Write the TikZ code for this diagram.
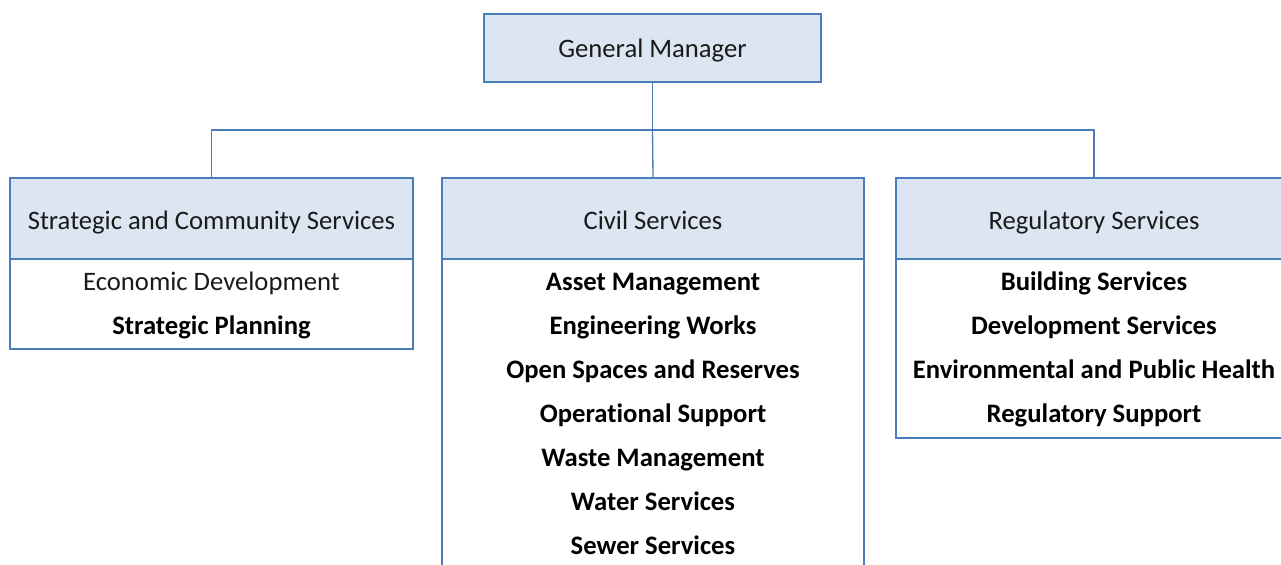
\documentclass[tikz,border=0pt]{standalone}
\usepackage{fontspec}
\setmainfont{Carlito}[Ligatures=CommonOff]
\definecolor{boxfill}{HTML}{DCE6F2}
\definecolor{boxline}{HTML}{4A7EBB}
\definecolor{txt}{HTML}{1A1A1A}
\begin{document}
\begin{tikzpicture}[x=0.75pt,y=-0.75pt,
  hdr/.style={draw=boxline,line width=1pt,fill=boxfill,minimum height=81*0.75pt,inner sep=0pt},
  bodybox/.style={draw=boxline,line width=1pt,fill=white,inner sep=0pt},
  lbl/.style={anchor=base,font=\fontsize{20}{24}\selectfont,text=txt,inner sep=0pt},
  item/.style={anchor=base,font=\fontsize{20}{24}\selectfont\bfseries,text=black,inner sep=0pt},
  itemreg/.style={anchor=base,font=\fontsize{20}{24}\selectfont,text=txt,inner sep=0pt},
  link/.style={draw=boxline,line width=1pt}]
\useasboundingbox (0,0) rectangle (1281,564);
\clip (0,0) rectangle (1281,564);
% General Manager
\node[hdr,minimum width=337*0.75pt,minimum height=68*0.75pt] (gm) at (652.5,48) {};
\node[lbl] (gmt) at (652.5,57) {General Manager};
% Left column
\node[bodybox,minimum width=403*0.75pt,minimum height=90*0.75pt] (scb) at (211.5,304) {};
\node[hdr,minimum width=403*0.75pt] (sc) at (211.5,218.5) {};
\node[lbl] (sct) at (211.5,229) {Strategic and Community Services};
\node[itemreg] (ed) at (211.5,290) {Economic Development};
\node[item] (sp) at (211.5,334) {Strategic Planning};
% Middle column
\node[bodybox,minimum width=422*0.75pt,minimum height=340*0.75pt] (cvb) at (653,429) {};
\node[hdr,minimum width=422*0.75pt] (cv) at (653,218.5) {};
\node[lbl] (cvt) at (653,229) {Civil Services};
\node[item] (am) at (653,290) {Asset Management};
\node[item] (ew) at (653,334) {Engineering Works};
\node[item] (os) at (653,378) {Open Spaces and Reserves};
\node[item] (ops) at (653,422) {Operational Support};
\node[item] (wm) at (653,466) {Waste Management};
\node[item] (ws) at (653,510) {Water Services};
\node[item] (ss) at (653,554) {Sewer Services};
% Right column
\node[bodybox,minimum width=396*0.75pt,minimum height=179*0.75pt] (rgb) at (1094,348.5) {};
\node[hdr,minimum width=396*0.75pt] (rg) at (1094,218.5) {};
\node[lbl] (rgt) at (1094,229) {Regulatory Services};
\node[item] (bs) at (1094,290) {Building Services};
\node[item] (ds) at (1094,334) {Development Services};
\node[item] (eph) at (1094,378) {Environmental and Public Health};
\node[item] (rs) at (1094,422) {Regulatory Support};
% Connectors
\coordinate (bus) at (652.5,130);
\draw[link] (gm.south) -- (gm.south |- bus);
\draw[link] (gm.south |- bus) -| (sc.north);
\draw[link] (gm.south |- bus) -| (rg.north);
\draw[link] (gm.south |- bus) -- (cv.north);
\end{tikzpicture}
\end{document}
